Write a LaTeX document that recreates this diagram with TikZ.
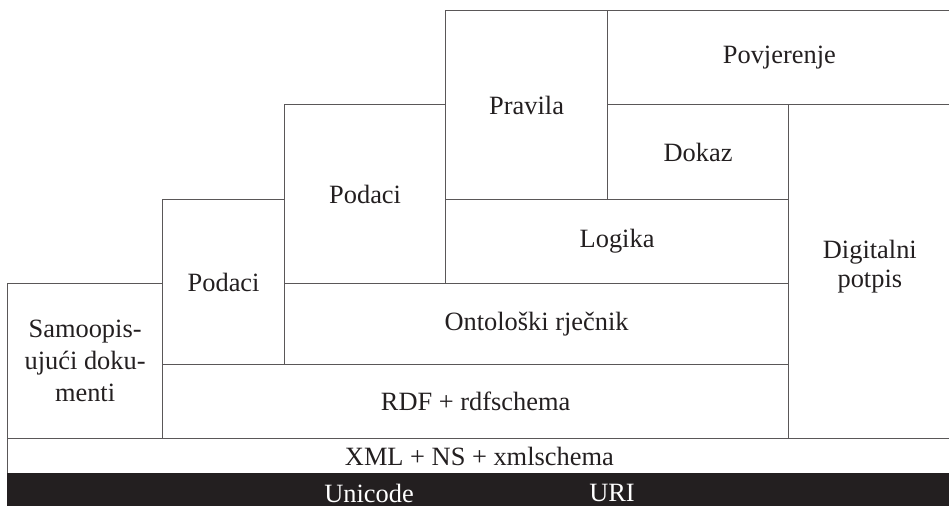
\documentclass[tikz,border=0pt]{standalone}
\usepackage{fontspec}
\setmainfont{Liberation Serif}
\usetikzlibrary{shapes, positioning}
\definecolor{tamna}{HTML}{231F20}
\tikzstyle{sloj} = [draw=tamna!75, line width=0.6pt, rectangle, anchor=north west, inner sep=0pt, align=center, text=tamna, font=\fontsize{13.2}{14.5}\selectfont]
\tikzstyle{temelj} = [fill=tamna, draw=tamna, rectangle, anchor=north west, inner sep=0pt]
\tikzstyle{bijelo} = [text=white, inner sep=0pt, font=\fontsize{13.2}{14.5}\selectfont]

\begin{document}
\begin{tikzpicture}[x=0.5pt, y=-0.5pt]
	\useasboundingbox (0,0) rectangle (949,506);
	\node [sloj, minimum width=77.5pt, minimum height=77.5pt, font=\fontsize{13.2}{16}\selectfont] (samoopis) at (7,283) {Samoopis-\\ujući doku-\\menti};
	\node [sloj, minimum width=61pt, minimum height=82.5pt] (podaci1) at (162,199) {Podaci};
	\node [sloj, minimum width=80.5pt, minimum height=89.5pt] (podaci2) at (284,104) {Podaci};
	\node [sloj, minimum width=81pt, minimum height=94.5pt] (pravila) at (445,10) {Pravila};
	\node [sloj, minimum width=171.75pt, minimum height=47pt] (povjerenje) at (607,10) {Povjerenje};
	\node [sloj, minimum width=90.5pt, minimum height=47.5pt] (dokaz) at (607,104) {Dokaz};
	\node [sloj, minimum width=81.25pt, minimum height=167pt, text depth=8pt] (potpis) at (788,104) {Digitalni\\potpis};
	\node [sloj, minimum width=171.5pt, minimum height=42pt] (logika) at (445,199) {Logika};
	\node [sloj, minimum width=252pt, minimum height=40.5pt] (rjecnik) at (284,283) {Ontološki rječnik};
	\node [sloj, minimum width=313pt, minimum height=37pt] (rdf) at (162,364) {RDF + rdfschema};
	\node [sloj, minimum width=471.75pt, minimum height=17.5pt] (xml) at (7,438) {XML + NS + xmlschema};
	\node [temelj, minimum width=471.75pt, minimum height=20pt] (temelj) at (7,473) {};
	\node [bijelo] (unicode) at (369,493) {Unicode};
	\node [bijelo] (uri) at (612,493) {URI};
\end{tikzpicture}
\end{document}
